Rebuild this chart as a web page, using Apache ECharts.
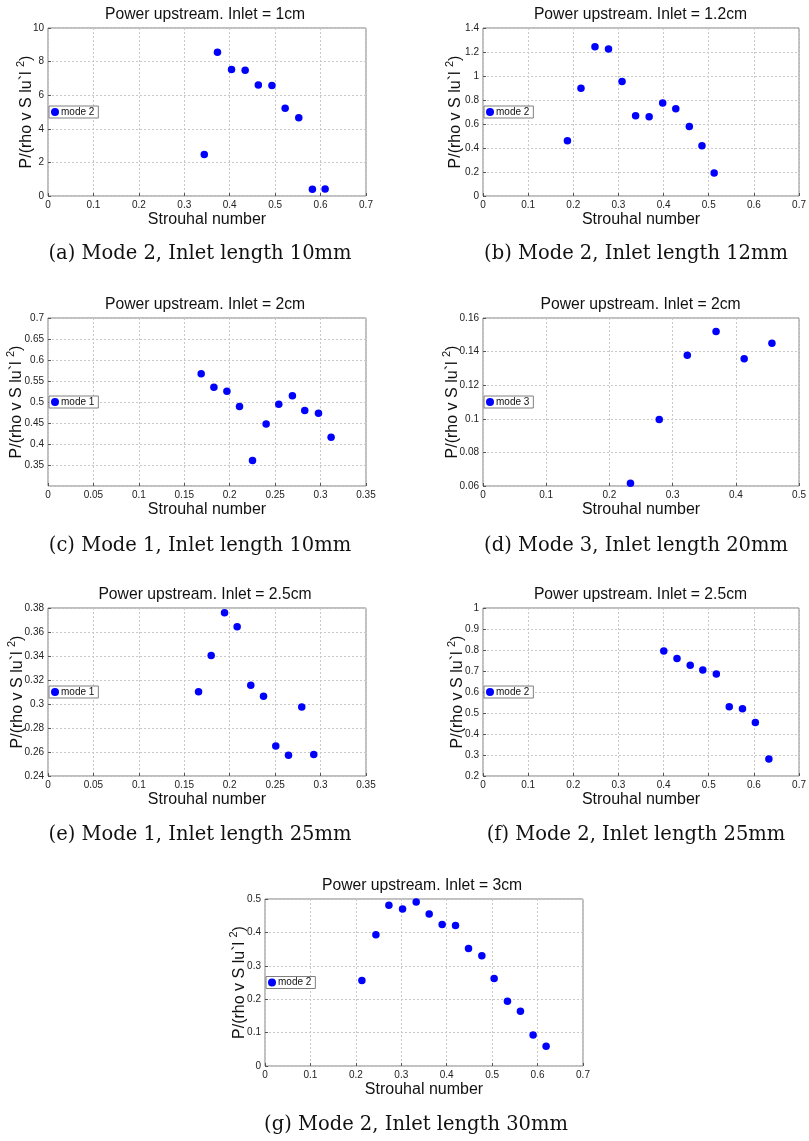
<!DOCTYPE html>
<html>
<head>
<meta charset="utf-8">
<script src="https://cdn.jsdelivr.net/npm/echarts@6/dist/echarts.min.js"></script>
<style>
  html, body { margin: 0; padding: 0; background: #fff; }
  #chart { width: 809px; height: 1141px; }
</style>
</head>
<body>
<div id="chart"></div>
<script>
// Strouhal number (x) and normalised upstream power (y) for each configuration
const stA = [0.344, 0.373, 0.404, 0.434, 0.463, 0.493, 0.522, 0.552, 0.582, 0.610];
const pA  = [2.47, 8.55, 7.53, 7.49, 6.61, 6.57, 5.22, 4.66, 0.40, 0.42];

const stB = [0.187, 0.217, 0.248, 0.278, 0.308, 0.338, 0.368, 0.398, 0.427, 0.457, 0.485, 0.512];
const pB  = [0.46, 0.898, 1.244, 1.224, 0.954, 0.669, 0.661, 0.775, 0.728, 0.58, 0.418, 0.192];

const stC = [0.1686, 0.1826, 0.1969, 0.2108, 0.2251, 0.2401, 0.254, 0.269, 0.2826, 0.2977, 0.3116];
const pC  = [0.567, 0.535, 0.5255, 0.489, 0.3606, 0.4474, 0.4944, 0.515, 0.48, 0.473, 0.4163];

const stD = [0.2333, 0.2788, 0.3232, 0.3687, 0.4132, 0.4571];
const pD  = [0.0616, 0.0996, 0.1379, 0.152, 0.1357, 0.1449];

const stE = [0.1657, 0.1796, 0.1943, 0.2082, 0.2232, 0.2372, 0.2507, 0.2647, 0.2793, 0.2925];
const pE  = [0.3103, 0.3404, 0.3761, 0.3644, 0.3156, 0.3064, 0.2651, 0.2573, 0.2975, 0.2579];

const stF = [0.4004, 0.4297, 0.459, 0.4868, 0.5168, 0.5454, 0.5747, 0.6032, 0.6332];
const pF  = [0.795, 0.7594, 0.7275, 0.7052, 0.686, 0.53, 0.52, 0.455, 0.281];

const stG = [0.2133, 0.2441, 0.2727, 0.3028, 0.3328, 0.3614, 0.39, 0.4194, 0.448, 0.4773, 0.5044, 0.5337, 0.5623, 0.5902, 0.6188];
const pG  = [0.256, 0.393, 0.481, 0.47, 0.491, 0.455, 0.424, 0.421, 0.352, 0.33, 0.262, 0.194, 0.164, 0.093, 0.059];

// Panel text
const plotTitles = [
  'Power upstream. Inlet = 1cm', 'Power upstream. Inlet = 1.2cm',
  'Power upstream. Inlet = 2cm', 'Power upstream. Inlet = 2cm',
  'Power upstream. Inlet = 2.5cm', 'Power upstream. Inlet = 2.5cm',
  'Power upstream. Inlet = 3cm'
];
const captions = [
  '(a) Mode 2, Inlet length 10mm', '(b) Mode 2, Inlet length 12mm',
  '(c) Mode 1, Inlet length 10mm', '(d) Mode 3, Inlet length 20mm',
  '(e) Mode 1, Inlet length 25mm', '(f) Mode 2, Inlet length 25mm',
  '(g) Mode 2, Inlet length 30mm'
];
const modeNames = ['mode 2', 'mode 2', 'mode 1', 'mode 3', 'mode 1', 'mode 2', 'mode 2'];

// Axis ranges [min, max, interval]
const xRanges = [[0, 0.7, 0.1], [0, 0.7, 0.1], [0, 0.35, 0.05], [0, 0.5, 0.1], [0, 0.35, 0.05], [0, 0.7, 0.1], [0, 0.7, 0.1]];
const yRanges = [[0, 10, 2], [0, 1.4, 0.2], [0.3, 0.7, 0.05], [0.06, 0.16, 0.02], [0.24, 0.38, 0.02], [0.2, 1, 0.1], [0, 0.5, 0.1]];
const hideMinYLabel = [false, false, true, false, false, false, false];

const xs = [stA, stB, stC, stD, stE, stF, stG];
const ys = [pA, pB, pC, pD, pE, pF, pG];

// Layout of each plot box: left, top, width, height, y-name gap, caption centre x, caption y
const layout = [
  { l: 48,  t: 28,  w: 318, h: 168, gap: 13, cx: 195, cy: 252 },
  { l: 483, t: 28,  w: 319, h: 168, gap: 19, cx: 631, cy: 252 },
  { l: 48,  t: 318, w: 318, h: 168, gap: 23, cx: 195, cy: 544 },
  { l: 483, t: 318, w: 319, h: 168, gap: 22, cx: 631, cy: 544 },
  { l: 48,  t: 608, w: 318, h: 168, gap: 22, cx: 195, cy: 833 },
  { l: 483, t: 608, w: 319, h: 168, gap: 17, cx: 631, cy: 833 },
  { l: 265, t: 899, w: 318, h: 167, gap: 17, cx: 411, cy: 1123 }
];

const sans = 'Liberation Sans, Arial, Helvetica, sans-serif';
const serif = 'DejaVu Serif, serif';

const grid = [], xAxis = [], yAxis = [], series = [], title = [], legend = [];

layout.forEach((g, i) => {
  grid.push({
    left: g.l, top: g.t, width: g.w, height: g.h,
    show: true, borderColor: '#808080', borderWidth: 1, backgroundColor: '#fff'
  });
  xAxis.push({
    gridIndex: i, type: 'value',
    min: xRanges[i][0], max: xRanges[i][1], interval: xRanges[i][2],
    name: 'Strouhal number', nameLocation: 'middle', nameGap: 16, nameMoveOverlap: false,
    nameTextStyle: { fontFamily: sans, fontSize: 16, color: '#111' },
    axisLine: { show: false },
    axisTick: { show: true, inside: true, length: 3, lineStyle: { color: '#555' } },
    axisLabel: { fontFamily: sans, fontSize: 10, color: '#222', margin: 4 },
    splitLine: { show: true, lineStyle: { color: '#c8c8c8', type: [2, 2], width: 1 } }
  });
  yAxis.push({
    gridIndex: i, type: 'value',
    min: yRanges[i][0], max: yRanges[i][1], interval: yRanges[i][2],
    name: '{t|P/(rho v S lu`l }{s|2}{t|)}',
    nameLocation: 'middle', nameGap: g.gap, nameRotate: 90, nameMoveOverlap: false,
    nameTextStyle: {
      fontFamily: sans, color: '#111',
      rich: {
        t: { fontFamily: sans, fontSize: 16, color: '#111', lineHeight: 20, verticalAlign: 'bottom' },
        s: { fontFamily: sans, fontSize: 11, color: '#111', lineHeight: 20, verticalAlign: 'top' }
      }
    },
    axisLine: { show: false },
    axisTick: { show: true, inside: true, length: 3, lineStyle: { color: '#555' } },
    axisLabel: { fontFamily: sans, fontSize: 10, color: '#222', margin: 4, showMinLabel: !hideMinYLabel[i] },
    splitLine: { show: true, lineStyle: { color: '#c8c8c8', type: [2, 2], width: 1 } }
  });
  series.push({
    name: modeNames[i], type: 'scatter',
    xAxisIndex: i, yAxisIndex: i,
    symbol: 'circle', symbolSize: 7.5,
    itemStyle: { color: '#0000ff', opacity: 1 },
    data: xs[i].map((x, k) => [x, ys[i][k]])
  });
  title.push({
    text: plotTitles[i], left: g.l + g.w / 2 - 7, top: g.t - 26, textAlign: 'center',
    textStyle: { fontFamily: sans, fontSize: 15.7, fontWeight: 'normal', color: '#111' }
  });
  title.push({
    text: captions[i], left: g.cx, top: g.cy - 13, textAlign: 'center',
    textStyle: { fontFamily: serif, fontSize: 19.5, fontWeight: 'normal', color: '#111' }
  });
  legend.push({
    data: [modeNames[i]],
    left: g.l + 1, top: g.t + g.h / 2 - 6,
    orient: 'horizontal',
    icon: 'circle', itemWidth: 8, itemHeight: 8, itemGap: 2,
    padding: [1, 4, 1, 2],
    borderColor: '#808080', borderWidth: 1, borderRadius: 0,
    backgroundColor: '#fff',
    selectedMode: false,
    itemStyle: { opacity: 1 },
    textStyle: { fontFamily: sans, fontSize: 10, color: '#111', padding: [0, 0, 0, -3] }
  });
});

const chart = echarts.init(document.getElementById('chart'), null, { renderer: 'canvas' });
chart.setOption({
  animation: false,
  backgroundColor: '#fff',
  title, legend, grid, xAxis, yAxis, series
});
</script>
</body>
</html>
